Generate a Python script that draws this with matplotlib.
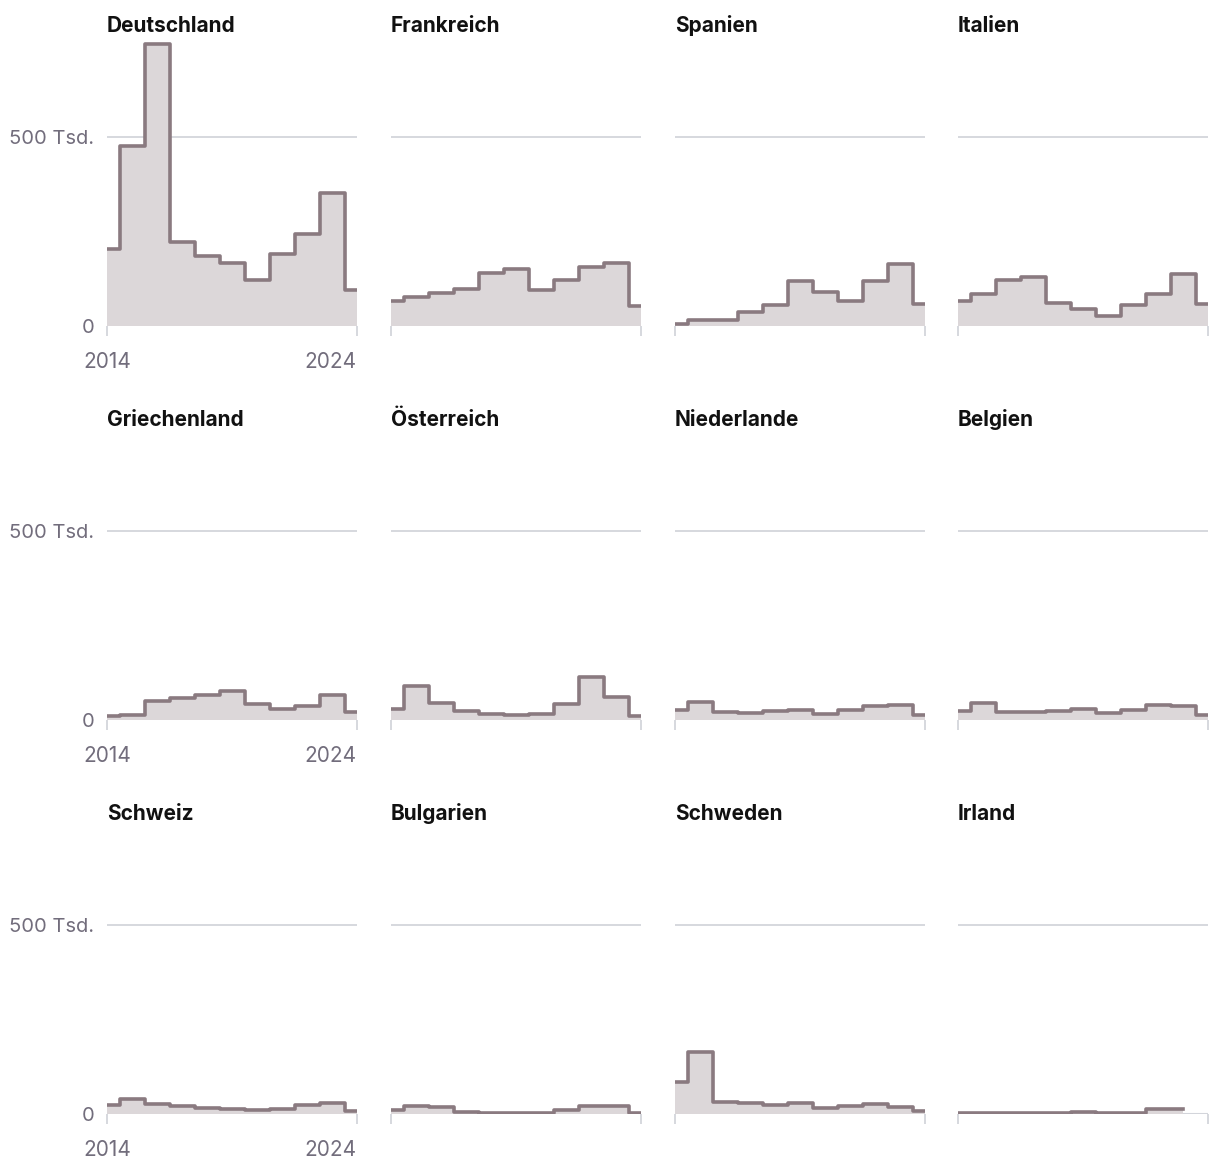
import numpy as np
import matplotlib
matplotlib.use('Agg')
import matplotlib.pyplot as plt

plt.rcParams['font.family'] = ['Inter', 'DejaVu Sans']

# Asylanträge pro Jahr, in Tausend
jahre = np.arange(2014, 2025)
laender = ['Deutschland', 'Frankreich', 'Spanien', 'Italien',
           'Griechenland', 'Österreich', 'Niederlande', 'Belgien',
           'Schweiz', 'Bulgarien', 'Schweden', 'Irland']

deutschland = [204, 476, 745, 222, 185, 166, 122, 190, 244, 351, 94]
frankreich = [65, 76, 87, 99, 140, 151, 94, 121, 157, 167, 52]
spanien = [6, 15, 16, 37, 55, 118, 89, 65, 118, 163, 58]
italien = [65, 85, 123, 130, 61, 44, 27, 56, 85, 137, 58]
griechenland = [10, 13, 51, 59, 67, 77, 42, 28, 37, 66, 22]
oesterreich = [28, 91, 44, 25, 15, 12, 16, 42, 113, 61, 10]
niederlande = [26, 47, 22, 19, 25, 27, 16, 26, 38, 41, 14]
belgien = [23, 46, 20, 20, 24, 30, 18, 26, 39, 38, 14]
schweiz = [23, 39, 27, 20, 16, 13, 10, 14, 25, 29, 9]
bulgarien = [11, 20, 19, 4, 3, 2, 3, 11, 20, 22, 3]
schweden = [84, 163, 32, 29, 23, 28, 17, 22, 26, 19, 8]
irland = [1.5, 3.3, 2.2, 2.9, 3.7, 4.8, 1.6, 2.6, 13.7, 13.3, np.nan]

werte = [deutschland, frankreich, spanien, italien,
         griechenland, oesterreich, niederlande, belgien,
         schweiz, bulgarien, schweden, irland]

linie = '#8a7a80'
flaeche = '#dcd7d9'
grau = '#d3d5db'
textgrau = '#726d7c'

W, H = 1220, 1172
fig = plt.figure(figsize=(W / 100, H / 100), dpi=100)

links = [107, 391, 675, 958]  # linke Kante der Panels in px
breite = 250
null_y = [326, 720, 1114]    # Nulllinie je Zeile in px
ymax = 760
hoehe = ymax * 189 / 500.0

for i, land in enumerate(laender):
    r, c = i // 4, i % 4
    ax = fig.add_axes([links[c] / W, (H - null_y[r]) / H, breite / W, hoehe / H])
    y = np.array(werte[i], dtype=float)
    ok = ~np.isnan(y)
    ax.axhline(500, color=grau, lw=1.3, zorder=1)
    ax.fill_between(jahre[ok], y[ok], step='mid', color=flaeche, lw=0, zorder=2)
    ax.axhline(0, color=grau, lw=1.5, zorder=1.5)
    ax.plot(jahre[ok], y[ok], drawstyle='steps-mid', color=linie, lw=2.6, zorder=3)

    ax.set_xlim(2014, 2024)
    ax.set_ylim(0, ymax)
    for s in ax.spines.values():
        s.set_visible(False)

    ax.set_xticks([2014, 2024])
    ax.tick_params(axis='x', length=7, width=1.3, color=grau, pad=12,
                   labelsize=15, labelcolor=textgrau)
    ax.set_yticks([0, 500])
    ax.tick_params(axis='y', length=0, pad=9, labelsize=14.5, labelcolor=textgrau)
    if c == 0:
        ax.set_xticklabels(['2014', '2024'])
        ax.get_xticklabels()[1].set_ha('right')
        ax.set_yticklabels(['0', '500 Tsd.'])
    else:
        ax.set_xticklabels([])
        ax.set_yticklabels([])

    ax.text(0, 1 + 7 / hoehe, land, transform=ax.transAxes, ha='left',
            va='baseline', fontsize=15, fontweight='bold', color='#111111')

plt.savefig('out.png', dpi=100)
